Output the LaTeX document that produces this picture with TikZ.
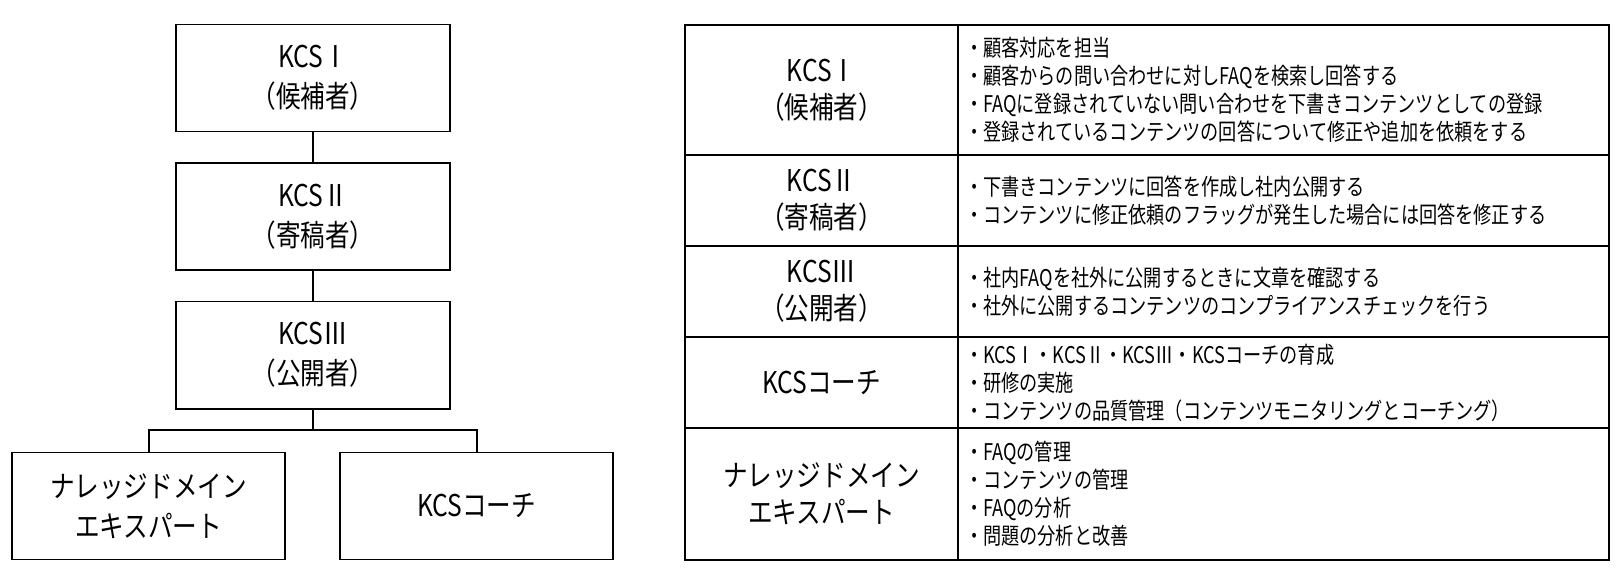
\documentclass[tikz,border=0pt]{standalone}
\usepackage{fontspec}
\setmainfont[FakeStretch=0.82]{Noto Sans CJK JP}
\newfontfamily\descfont[FakeStretch=0.79]{Noto Sans CJK JP}
\usetikzlibrary{positioning, calc}

\begin{document}
\begin{tikzpicture}[
        x=1pt, y=-1pt,
        % Styles
        role/.style={
            rectangle, draw=black, line width=1.6pt,
            minimum width=274pt, minimum height=107pt,
            align=center, font=\fontsize{30pt}{40pt}\selectfont
        },
        rolecell/.style={
            rectangle, draw=black, line width=1.6pt,
            minimum width=273pt, align=center,
            font=\fontsize{30pt}{37pt}\selectfont
        },
        desccell/.style={
            rectangle, draw=black, line width=1.6pt,
            inner xsep=7pt, text width=637pt, align=left,
            font=\descfont\fontsize{23pt}{28pt}\selectfont
        },
        link/.style={draw=black, line width=2pt}
    ]
        \useasboundingbox (0,0) rectangle (1617,577);

        % Hierarchy
        \node[role] (kcs1) at (313,78) {KCSⅠ\\（候補者）};
        \node[role, below=30pt of kcs1] (kcs2) {KCSⅡ\\（寄稿者）};
        \node[role, below=30pt of kcs2] (kcs3) {KCSⅢ\\（公開者）};
        \node[role, minimum width=273pt] (expert) at (148.5,506) {ナレッジドメイン\\エキスパート};
        \node[role, minimum width=273pt] (coach) at (476.5,506) {KCSコーチ};

        % Connections
        \draw[link] (kcs1) -- (kcs2);
        \draw[link] (kcs2) -- (kcs3);
        \coordinate (split) at (313,430);
        \draw[link] (kcs3.south) -- (split) -| (expert.north);
        \draw[link] (split) -| (coach.north);

        % Role table
        \node[rolecell, minimum height=130pt] (r1) at (821.5,90) {KCSⅠ\\（候補者）};
        \node[desccell, minimum height=130pt] (d1) at (1283.5,90) {・顧客対応を担当\\・顧客からの問い合わせに対しFAQを検索し回答する\\・FAQに登録されていない問い合わせを下書きコンテンツとしての登録\\・登録されているコンテンツの回答について修正や追加を依頼をする};

        \node[rolecell, minimum height=91pt] (r2) at (821.5,200.5) {KCSⅡ\\（寄稿者）};
        \node[desccell, minimum height=91pt] (d2) at (1283.5,200.5) {・下書きコンテンツに回答を作成し社内公開する\\・コンテンツに修正依頼のフラッグが発生した場合には回答を修正する};

        \node[rolecell, minimum height=91pt] (r3) at (821.5,291.5) {KCSⅢ\\（公開者）};
        \node[desccell, minimum height=91pt] (d3) at (1283.5,291.5) {・社内FAQを社外に公開するときに文章を確認する\\・社外に公開するコンテンツのコンプライアンスチェックを行う};

        \node[rolecell, minimum height=91pt] (r4) at (821.5,382.5) {KCSコーチ};
        \node[desccell, minimum height=91pt] (d4) at (1283.5,382.5) {・KCSⅠ・KCSⅡ・KCSⅢ・KCSコーチの育成\\・研修の実施\\・コンテンツの品質管理（コンテンツモニタリングとコーチング）};

        \node[rolecell, minimum height=132pt] (r5) at (821.5,494) {ナレッジドメイン\\エキスパート};
        \node[desccell, minimum height=132pt] (d5) at (1283.5,494) {・FAQの管理\\・コンテンツの管理\\・FAQの分析\\・問題の分析と改善};

    \end{tikzpicture}
\end{document}
